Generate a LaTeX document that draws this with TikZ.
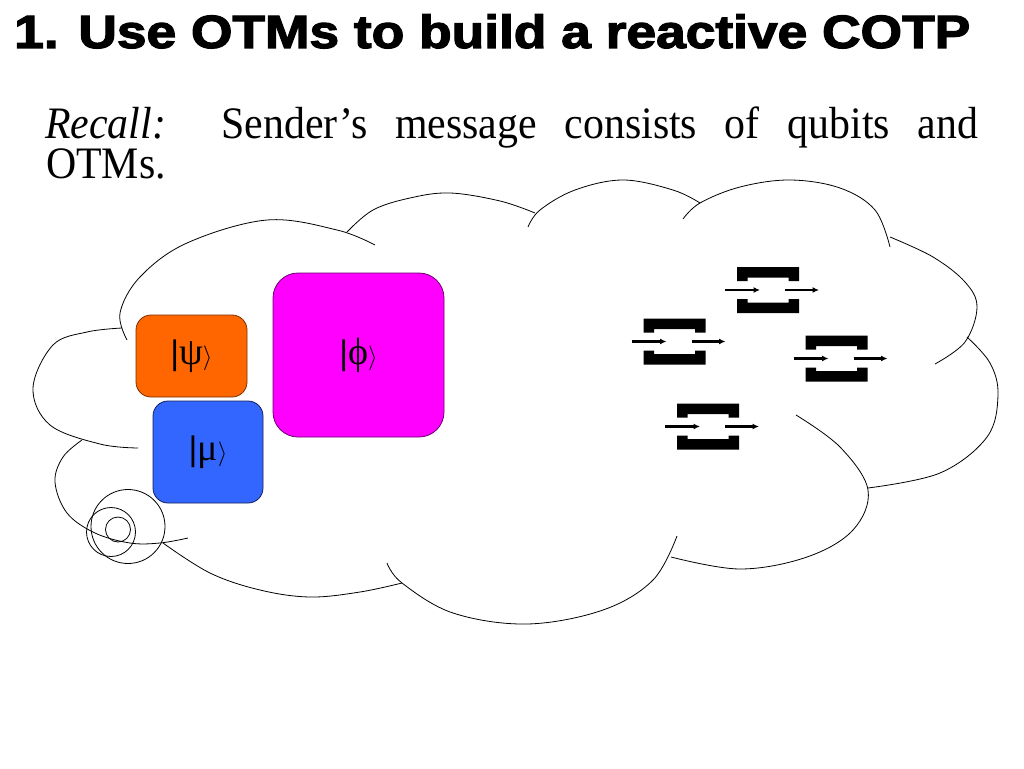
\documentclass[tikz,border=0pt]{standalone}
\usepackage{fontspec}
\setmainfont{Liberation Serif}
\newfontfamily\bodyfont[FakeStretch=0.93]{Liberation Serif}
\newfontfamily\titlefont[FakeBold=2.5]{Liberation Sans}
\newfontfamily\ketsans{Liberation Sans}
\newfontfamily\ketserif{Liberation Serif}
\usetikzlibrary{arrows.meta}
\definecolor{ketorange}{HTML}{FF6600}
\definecolor{ketorangeD}{HTML}{7A3000}
\definecolor{ketblue}{HTML}{3366FF}
\definecolor{ketblueD}{HTML}{14205A}
\definecolor{ketmag}{HTML}{FF00FF}
\definecolor{ketmagD}{HTML}{6A0070}
\tikzset{
  cloudarc/.style={draw=black, line width=0.8pt, smooth, tension=0.6},
  ketbox/.style={rounded corners=#1, line width=0.8pt, inner sep=0pt, font=\fontsize{38}{38}\selectfont},
  ketbox/.default=15pt,
  otmarrow/.style={-{Latex[length=6.5pt,width=6pt]}, line width=2.3pt},
  otm/.pic={
    \fill (-31,-23) -- (31,-23) -- (31,-9) -- (20.5,-9) -- (20.5,-12.5) -- (-20.5,-12.5) -- (-20.5,-9) -- (-31,-9) -- cycle;
    \fill (-31,23) -- (31,23) -- (31,9) -- (20.5,9) -- (20.5,12.5) -- (-20.5,12.5) -- (-20.5,9) -- (-31,9) -- cycle;
    \draw[otmarrow] (-43,0) -- (-8,0);
    \draw[otmarrow] (17,0) -- (51,0);
  }
}
\newcommand{\myket}[1]{{\ketsans\fontsize{34}{34}\selectfont |}{\ketserif #1}$\rangle$}
\begin{document}
\begin{tikzpicture}[x=1pt,y=-1pt]
\useasboundingbox[fill=white] (0,0) rectangle (1024,768);

% title
\node[anchor=base west, inner sep=0pt] (title) at (14,48)
  {\resizebox{956pt}{\totalheight}{\titlefont\bfseries\fontsize{46}{46}\selectfont 1. Use OTMs to build a reactive COTP}};

% body text
\node[anchor=base west, inner sep=0pt] (body) at (45,138)
  {\parbox[t]{933pt}{\bodyfont\fontsize{45}{40}\selectfont
   \makebox[933pt][s]{\textit{Recall:}\ \ Sender’s message consists of qubits and}\par
   \hspace*{1pt}OTMs.}};

% cloud arcs
\draw[cloudarc] plot coordinates {(122,328) (87,332) (53,345) (33,388) (50,425) (100,444) (138,448)};
\draw[cloudarc] plot coordinates {(82,440) (63,457) (55,482) (67,513) (95,533) (130,543) (160,543) (188,538)};
\draw[cloudarc] plot coordinates {(163,543) (210,573) (260,590) (310,597) (360,592) (402,583)};
\draw[cloudarc] plot coordinates {(387,563) (402,583) (453,613) (527,624) (603,610) (653,580) (677,536)};
\draw[cloudarc] plot coordinates {(671,557) (740,569) (807,557) (853,530) (868,490) (840,447) (796,415)};
\draw[cloudarc] plot coordinates {(868,488) (940,473) (987,437) (998,395) (990,363) (967,337)};
\draw[cloudarc] plot coordinates {(935,364) (965,342) (977,307) (965,282) (933,257) (890,237)};
\draw[cloudarc] plot coordinates {(683,219) (700,203) (740,187) (790,180) (840,188) (875,210) (890,247)};
\draw[cloudarc] plot coordinates {(528,227) (540,210) (575,190) (623,180) (673,190) (700,203)};
\draw[cloudarc] plot coordinates {(347,232) (373,210) (410,198) (450,193) (500,201) (535,213)};
\draw[cloudarc] plot coordinates {(127,340) (120,313) (140,277) (187,243) (267,220) (337,230) (375,245)};

% bubble circles
\draw[line width=0.8pt] (128,526.5) circle[radius=37pt];
\draw[line width=0.8pt] (111,532) circle[radius=24.5pt];
\draw[line width=0.8pt] (118,529.5) circle[radius=12.5pt];

% qubit boxes
\node[ketbox, fill=ketorange, draw=ketorangeD, minimum width=111pt, minimum height=82pt] (psi) at (191.5,356) {\myket{ψ}};
\node[ketbox, fill=ketblue, draw=ketblueD, minimum width=110pt, minimum height=102pt] (mu) at (208,452) {\myket{μ}};
\node[ketbox=25pt, fill=ketmag, draw=ketmagD, minimum width=171pt, minimum height=164pt] (phi) at (358.5,355) {\myket{ϕ}};

% OTMs
\pic at (768,290) {otm};
\pic at (674.5,341.5) {otm};
\pic at (836.5,358.5) {otm};
\pic at (708,426.5) {otm};
\end{tikzpicture}
\end{document}
